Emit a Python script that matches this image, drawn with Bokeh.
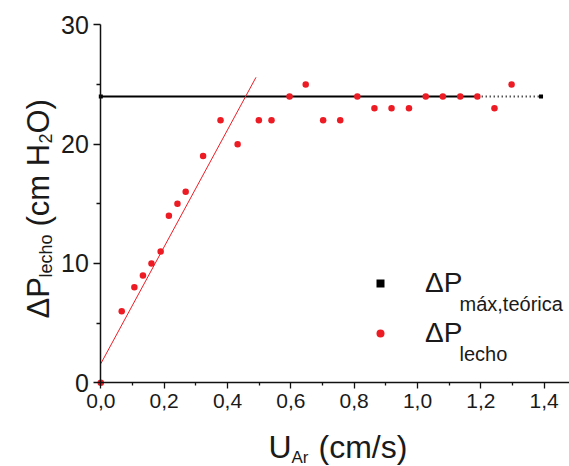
import math
from bokeh.plotting import figure
from bokeh.models import (Range1d, FixedTicker, CustomJSTickFormatter, Label,
                          Legend, LegendItem, LinearAxis)
from bokeh.embed import file_html
from bokeh.resources import INLINE

# ---- data ----
u_lecho = [0.0, 0.066, 0.106, 0.133, 0.160, 0.189, 0.215, 0.242, 0.268, 0.323,
           0.378, 0.432, 0.499, 0.539, 0.596, 0.647, 0.702, 0.756, 0.810, 0.864,
           0.918, 0.973, 1.026, 1.080, 1.135, 1.189, 1.243, 1.297]
dp_lecho = [0, 6, 8, 9, 10, 11, 14, 15, 16, 19,
            22, 20, 22, 22, 24, 25, 22, 22, 24, 23,
            23, 23, 24, 24, 24, 24, 23, 25]
u_teo = [0.0, 1.19, 1.39]
dp_teo = [24.0, 24.0, 24.0]
u_fit = [0.0, 0.49]
dp_fit = [1.6, 25.6]

x_ticks = [0.0, 0.2, 0.4, 0.6, 0.8, 1.0, 1.2, 1.4]
x_minor = [0.1, 0.3, 0.5, 0.7, 0.9, 1.1, 1.3]
y_ticks = [0, 10, 20, 30]
y_minor = [5, 15, 25]

RED = "#ED1C24"
INK = "#1a1a1a"
FONT = "Liberation Sans"

p = figure(width=569, height=466, output_backend="svg", toolbar_location=None,
           x_range=Range1d(-0.3167, 1.4799), y_range=Range1d(-7.014, 32.037),
           x_axis_location=None, y_axis_location=None,
           min_border_left=0, min_border_right=0, min_border_top=0,
           min_border_bottom=0)
p.outline_line_color = None
p.grid.visible = False
p.background_fill_color = "white"

xaxis = LinearAxis(fixed_location=0, bounds=(0, 1.48),
                   ticker=FixedTicker(ticks=x_ticks, minor_ticks=x_minor),
                   formatter=CustomJSTickFormatter(
                       code="return tick.toFixed(1).replace('.', ',');"))
yaxis = LinearAxis(fixed_location=0, bounds=(0, 30),
                   ticker=FixedTicker(ticks=y_ticks, minor_ticks=y_minor),
                   formatter=CustomJSTickFormatter(code="return tick.toFixed(0);"))
for ax in (xaxis, yaxis):
    ax.axis_line_color = "#111111"
    ax.axis_line_width = 1.5
    ax.major_tick_line_color = "#111111"
    ax.minor_tick_line_color = "#111111"
    ax.major_tick_line_width = 1.3
    ax.minor_tick_line_width = 1.3
    ax.major_tick_in = 0
    ax.minor_tick_in = 0
    ax.major_label_text_font = FONT
    ax.major_label_text_color = INK
xaxis.major_tick_out = 6
xaxis.minor_tick_out = 3
yaxis.major_tick_out = 7
yaxis.minor_tick_out = 4
xaxis.major_label_text_font_size = "21px"
yaxis.major_label_text_font_size = "25px"
xaxis.major_label_standoff = 5
yaxis.major_label_standoff = 5
p.add_layout(xaxis, "below")
p.add_layout(yaxis, "left")

# ---- series ----
p.line(u_teo[:2], dp_teo[:2], line_color="black", line_width=2)
p.line(u_teo[1:], dp_teo[1:], line_color="black", line_width=2, line_dash="1 3")
teo_pts = p.scatter(u_teo[::2], dp_teo[::2], marker="square", size=4,
                    fill_color="black", line_color=None)
p.line(u_fit, dp_fit, line_color=RED, line_width=1)
pts = p.scatter(u_lecho, dp_lecho, marker="circle", size=6.5, fill_color=RED,
                line_color=None)

legend = Legend(items=[LegendItem(label="ΔP", renderers=[teo_pts]),
                       LegendItem(label="ΔP", renderers=[pts])],
                location=(370, 116), padding=0, margin=0,
                border_line_color=None, background_fill_alpha=0,
                glyph_width=20, glyph_height=34, label_height=34,
                label_standoff=35, spacing=16,
                label_text_font=FONT, label_text_font_size="28px",
                label_text_color=INK)
p.add_layout(legend)

def lab(text, sx, sy, size, angle=0.0):
    p.add_layout(Label(x=sx, y=sy, x_units="screen", y_units="screen", text=text,
                       angle=angle, text_font=FONT, text_font_size=f"{size}px",
                       text_color=INK, text_baseline="alphabetic",
                       text_align="left"))

# screen coords: sx = page_x, sy = 466 - page_y
lab("máx,teórica", 459, 163, 20)
lab("lecho", 459, 113, 20)

A = math.pi / 2
lab("ΔP", 38, 148, 31, A)
lab("lecho", 45, 189, 18, A)
lab("(cm H", 38, 240, 31, A)
lab("2", 45, 323, 18, A)
lab("O)", 38, 333, 31, A)

lab("U", 268, 20, 32)
lab("Ar", 291, 9, 17)
lab("(cm/s)", 318, 20, 32)

open("out.html", "w").write(file_html(p, INLINE))
